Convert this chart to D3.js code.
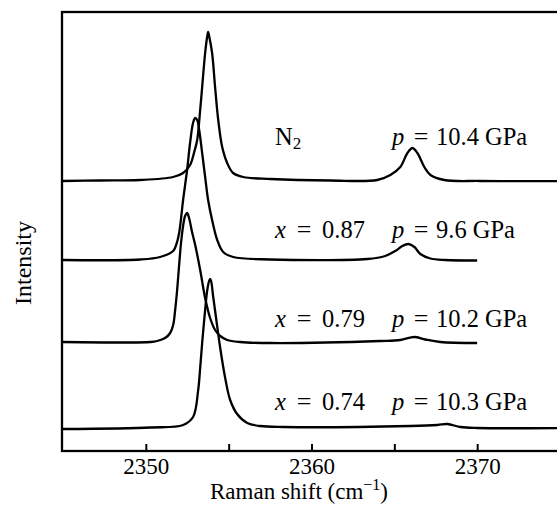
<!DOCTYPE html>
<html>
<head>
<meta charset="utf-8">
<script src="https://cdn.jsdelivr.net/npm/d3@7"></script>
<style>
  html, body { margin: 0; padding: 0; background: #fff; }
  svg { display: block; }
  text { font-family: "Liberation Serif", "Times New Roman", serif; fill: #000; }
</style>
</head>
<body>
<script>
// Raman spectra of the N2 vibron for pure N2 and three mixtures (offset vertically)

// x-axis ticks (cm^-1)
const tickValues = [2350, 2355, 2360, 2365, 2370, 2375];
const tickLabels = ["2350", "", "2360", "", "2370", ""];

// series descriptors
const compositions = [null, 0.87, 0.79, 0.74];     // null = pure N2
const pressures = [10.4, 9.6, 10.2, 10.3];         // GPa
const offsets = [270, 191, 109, 22];               // vertical stacking offsets (a.u.)

// pure N2, p = 10.4 GPa
const wnN2 = [2345.0, 2347.2, 2349.65, 2351.65, 2352.25, 2352.67, 2352.92, 2353.10, 2353.28, 2353.40,
  2353.58, 2353.70, 2353.76, 2353.82, 2354.00, 2354.18, 2354.37, 2354.61, 2354.91, 2355.27,
  2355.88, 2357.51, 2361.13, 2363.97, 2364.76, 2365.36, 2365.79, 2366.09, 2366.39, 2366.81,
  2367.18, 2368.02, 2370.2, 2375.3];
const intN2 = [0, 0.5, 1, 4, 8, 16, 29, 41, 71, 94,
  128, 144, 149, 145, 128, 94, 61, 34, 18, 8,
  4, 2, 0.5, 1, 6, 14, 28, 33, 28, 14,
  6, 1, 0, 0];

// x = 0.87, p = 9.6 GPa
const wn087 = [2345.0, 2349.65, 2350.86, 2351.65, 2351.83, 2352.01, 2352.25, 2352.49, 2352.67, 2352.85,
  2352.98, 2353.10, 2353.22, 2353.40, 2353.58, 2353.76, 2354.00, 2354.31, 2354.67, 2355.27,
  2357.51, 2363.37, 2364.45, 2365.06, 2365.48, 2365.85, 2366.21, 2366.57, 2367.18, 2368.08, 2370.0];
const int087 = [0, 0.5, 3, 9, 15, 27, 60, 90, 117, 137,
  142, 140, 130, 107, 83, 60, 40, 20, 8, 3,
  0.5, 1, 4, 9, 14, 16, 13, 6, 1.5, 0, -0.5];

// x = 0.79, p = 10.2 GPa
const wn079 = [2345.0, 2350.29, 2350.68, 2351.16, 2351.47, 2351.65, 2351.77, 2351.89, 2352.01, 2352.13,
  2352.25, 2352.37, 2352.49, 2352.61, 2352.79, 2352.98, 2353.28, 2353.58, 2353.88, 2354.18,
  2354.49, 2354.91, 2355.69, 2357.51, 2364.15, 2365.36, 2366.21, 2366.87, 2367.78, 2370.0];
const int079 = [0, 0, 1, 4, 9, 17, 32, 52, 77, 100,
  116, 126, 129, 124, 110, 97, 72, 44, 24, 12,
  6, 2, 0, -1, 1, 2, 5, 2.5, 0, -1];

// x = 0.74, p = 10.3 GPa
const wn074 = [2345.0, 2350.29, 2352.25, 2352.85, 2353.16, 2353.28, 2353.40, 2353.58, 2353.70, 2353.82,
  2353.88, 2353.94, 2354.06, 2354.24, 2354.49, 2354.79, 2355.09, 2355.51, 2356.12, 2356.90,
  2358.29, 2365.97, 2367.60, 2368.20, 2368.99, 2370.0, 2375.3];
const int074 = [0, 1.5, 4, 12, 39, 61, 86, 119, 138, 148,
  150, 148, 133, 111, 81, 51, 29, 15, 6, 3,
  2, 3, 4, 5, 2, 1, 1];

const spectra = [
  { wn: wnN2, val: intN2 },
  { wn: wn087, val: int087 },
  { wn: wn079, val: int079 },
  { wn: wn074, val: int074 }
];

// ---- layout ----
const W = 557, H = 508;
const plot = { left: 62, right: 562, top: 12, bottom: 451 };

const svg = d3.select("body").append("svg")
  .attr("width", W).attr("height", H);

const x = d3.scaleLinear().domain([2345, 2375]).range([63, 560]);
const y = d3.scaleLinear().domain([0, 439]).range([plot.bottom, plot.top]);

svg.append("defs").append("clipPath").attr("id", "plotClip")
  .append("rect")
  .attr("x", plot.left).attr("y", plot.top)
  .attr("width", plot.right - plot.left).attr("height", plot.bottom - plot.top);

// spectra
const line = d3.line()
  .x(d => x(d[0]))
  .y(d => y(d[1]))
  .curve(d3.curveCatmullRom.alpha(0.5));

const gLines = svg.append("g").attr("clip-path", "url(#plotClip)");
spectra.forEach((s, i) => {
  const pts = s.wn.map((w, k) => [w, offsets[i] + s.val[k]]);
  gLines.append("path")
    .attr("d", line(pts))
    .attr("fill", "none")
    .attr("stroke", "#000")
    .attr("stroke-width", 2.3)
    .attr("stroke-linejoin", "round");
});

// frame
svg.append("rect")
  .attr("x", plot.left).attr("y", plot.top)
  .attr("width", plot.right - plot.left).attr("height", plot.bottom - plot.top)
  .attr("fill", "none").attr("stroke", "#000").attr("stroke-width", 2.3);

// bottom axis with inward ticks
const xAxis = d3.axisBottom(x)
  .tickValues(tickValues)
  .tickFormat((d, i) => tickLabels[i])
  .tickSizeInner(-7)
  .tickSizeOuter(0);

const gx = svg.append("g")
  .attr("transform", `translate(0,${plot.bottom})`)
  .call(xAxis);
gx.select(".domain").remove();
gx.selectAll(".tick line").attr("stroke", "#000").attr("stroke-width", 2);
gx.selectAll(".tick text")
  .attr("y", 23).attr("dy", 0)
  .style("font-family", "'Liberation Serif', serif")
  .style("font-size", "23px")
  .attr("fill", "#000");

// axis titles
const xt = svg.append("text")
  .attr("x", 210).attr("y", 499)
  .style("font-size", "23px");
xt.append("tspan").text("Raman shift (cm");
xt.append("tspan").attr("dy", -9).style("font-size", "16px").text("\u22121");
xt.append("tspan").attr("dy", 9).text(")");

svg.append("text")
  .attr("transform", "translate(31,263) rotate(-90)")
  .attr("text-anchor", "middle")
  .style("font-size", "24px")
  .text("Intensity");

// series annotations
const labelY = [145, 238, 327, 410];
const fs = "24.5px";
compositions.forEach((c, i) => {
  const ly = labelY[i];
  if (c === null) {
    const t = svg.append("text").attr("x", 275).attr("y", ly).style("font-size", fs);
    t.append("tspan").text("N");
    t.append("tspan").attr("dy", 4).style("font-size", "17px").text("2");
  } else {
    svg.append("text").attr("x", 275).attr("y", ly)
      .style("font-size", fs).style("font-style", "italic").text("x");
    svg.append("text").attr("x", 304).attr("y", ly).attr("text-anchor", "middle")
      .style("font-size", "26px").text("=");
    svg.append("text").attr("x", 322).attr("y", ly)
      .style("font-size", fs).text(d3.format(".2f")(c));
  }
  svg.append("text").attr("x", 392).attr("y", ly)
    .style("font-size", fs).style("font-style", "italic").text("p");
  svg.append("text").attr("x", 421).attr("y", ly).attr("text-anchor", "middle")
    .style("font-size", "26px").text("=");
  svg.append("text").attr("x", 436).attr("y", ly)
    .style("font-size", fs).text(`${d3.format(".1f")(pressures[i])} GPa`);
});
</script>
</body>
</html>
